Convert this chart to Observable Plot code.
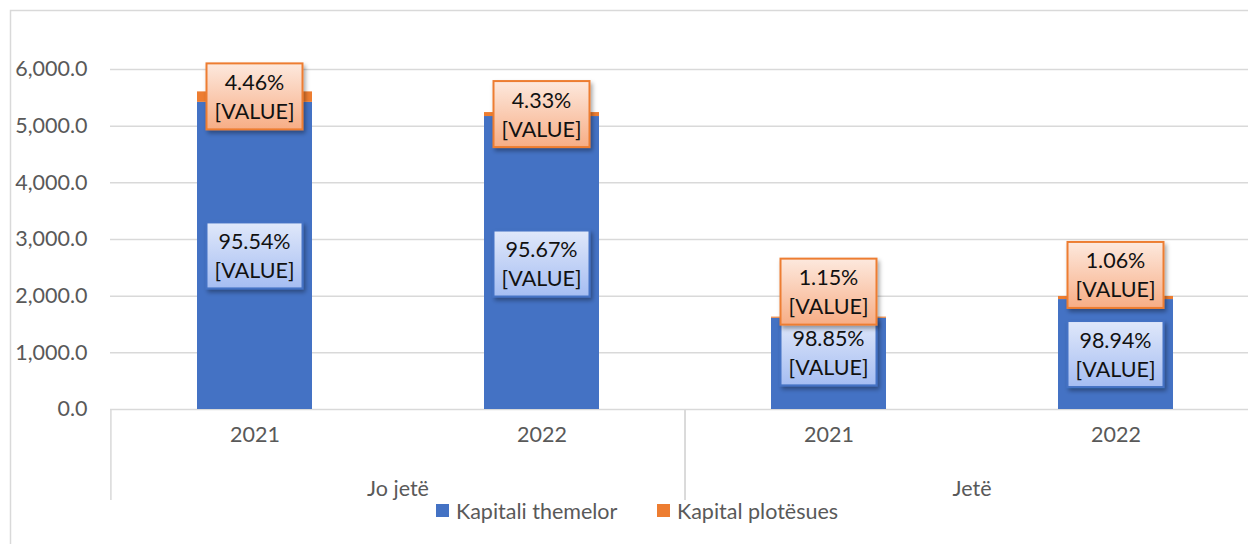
<!DOCTYPE html>
<html><head><meta charset="utf-8">
<script src="https://cdn.jsdelivr.net/npm/d3@7"></script>
<script src="https://cdn.jsdelivr.net/npm/@observablehq/plot@0.6"></script>
<style>html,body{margin:0;padding:0;background:#fff;overflow:hidden;} svg{display:block}</style>
</head><body><div id="chart"></div>
<script>
// ---- data ----
const groups = ["Jo jetë", "Jo jetë", "Jetë", "Jetë"];
const years = ["2021", "2022", "2021", "2022"];
const seriesNames = ["Kapitali themelor", "Kapital plotësues"];
const kapitaliThemelor = [5420, 5170, 1610, 1940];
const kapitalPlotesues = [185, 70, 20, 55];
const shareThemelor = ["95.54%", "95.67%", "98.85%", "98.94%"];
const sharePlotesues = ["4.46%", "4.33%", "1.15%", "1.06%"];
const valueLabel = "[VALUE]";
const yTicks = [0, 1000, 2000, 3000, 4000, 5000, 6000];

// ---- build table ----
const keys = groups.map((g, i) => g + " " + years[i]);
const rows = [];
keys.forEach((k, i) => {
  rows.push({key: k, series: seriesNames[0], value: kapitaliThemelor[i]});
  rows.push({key: k, series: seriesNames[1], value: kapitalPlotesues[i]});
});

// ---- style / layout ----
const FONT = "Lato, 'Open Sans', sans-serif";
const FS = 21.5;
const AXIS_COLOR = "#595959";
const GRID = "#d9d9d9";
const BLUE = "#4472c4", ORANGE = "#ed7d31";
const orangeLabelDy = [5, 2, -25, -21];
const blueLabelDy = [0, 1, -11, 0];
const BOX_W = 96, BOX_H = 66;

const svgNS = "http://www.w3.org/2000/svg";
function el(name, attrs, parent) {
  const e = document.createElementNS(svgNS, name);
  for (const [k, v] of Object.entries(attrs || {})) e.setAttribute(k, v);
  if (parent) parent.appendChild(e);
  return e;
}

// defs: gradients + shadow
function defsMark() {
  const g = el("g");
  const defs = el("defs", {}, g);
  const go = el("linearGradient", {id: "gradO", x1: 0, y1: 0, x2: 0, y2: 1}, defs);
  el("stop", {offset: "0%", "stop-color": "#fde9de"}, go);
  el("stop", {offset: "100%", "stop-color": "#f7ad85"}, go);
  const gb = el("linearGradient", {id: "gradB", x1: 0, y1: 0, x2: 0, y2: 1}, defs);
  el("stop", {offset: "0%", "stop-color": "#e0e8fa"}, gb);
  el("stop", {offset: "100%", "stop-color": "#a5bdf2"}, gb);
  const f = el("filter", {id: "shadow", x: "-20%", y: "-20%", width: "150%", height: "150%"}, defs);
  el("feDropShadow", {dx: 2, dy: 3, stdDeviation: 2, "flood-color": "#000", "flood-opacity": 0.35}, f);
  // outer chart border
  el("path", {d: "M10.5,544V10.5H1248", fill: "none", stroke: GRID, "stroke-width": 1.5}, g);
  return g;
}

function labelsMark(index, scales) {
  const {x, y} = scales;
  const g = el("g", {"font-family": FONT, "font-size": FS, "text-anchor": "middle"});
  const bw = x.bandwidth();
  keys.forEach((k, i) => {
    const cx = x(k) + bw / 2;
    const total = kapitaliThemelor[i] + kapitalPlotesues[i];
    const boxes = [
      {cy: y(kapitaliThemelor[i] / 2) + blueLabelDy[i], fill: "url(#gradB)", stroke: BLUE, text: shareThemelor[i]},
      {cy: y(total) + orangeLabelDy[i], fill: "url(#gradO)", stroke: ORANGE, text: sharePlotesues[i]}
    ];
    for (const b of boxes) {
      el("rect", {x: cx - BOX_W / 2, y: b.cy - BOX_H / 2, width: BOX_W, height: BOX_H,
        fill: b.fill, stroke: b.stroke, "stroke-width": 2, filter: "url(#shadow)"}, g);
      const t1 = el("text", {x: cx, y: b.cy - 14, dy: "0.35em", fill: "#111"}, g);
      t1.textContent = b.text;
      const t2 = el("text", {x: cx, y: b.cy + 15, dy: "0.35em", fill: "#111"}, g);
      t2.textContent = valueLabel;
    }
  });
  return g;
}

function groupAxisMark(index, scales) {
  const {x, y} = scales;
  const g = el("g", {"font-family": FONT, "font-size": FS, "text-anchor": "middle", fill: AXIS_COLOR});
  const step = x.step();
  const y0 = y(0);
  const uniq = [...new Set(groups)];
  uniq.forEach((gr) => {
    const ks = keys.filter((k, i) => groups[i] === gr);
    const left = x(ks[0]) - x.paddingOuter() * step;
    const right = x(ks[ks.length - 1]) + x.bandwidth() + x.paddingOuter() * step;
    el("line", {x1: left, x2: left, y1: y0, y2: y0 + 91, stroke: GRID, "stroke-width": 1.5}, g);
    el("line", {x1: right, x2: right, y1: y0, y2: y0 + 91, stroke: GRID, "stroke-width": 1.5}, g);
    const t = el("text", {x: (left + right) / 2, y: y0 + 79, dy: "0.35em"}, g);
    t.textContent = gr;
  });
  return g;
}

function legendMark(index, scales) {
  const g = el("g", {"font-family": FONT, "font-size": FS, fill: AXIS_COLOR, "text-anchor": "start"});
  const starts = [436, 657];
  seriesNames.forEach((s, i) => {
    el("rect", {x: starts[i], y: 504, width: 13, height: 13, fill: scales.color(s)}, g);
    const t = el("text", {x: starts[i] + 20, y: 511, dy: "0.35em"}, g);
    t.textContent = s;
  });
  return g;
}

const chart = Plot.plot({
  width: 1248,
  height: 544,
  marginTop: 69,
  marginBottom: 135,
  marginLeft: 110,
  marginRight: 0,
  style: {fontFamily: FONT, background: "#fff"},
  x: {type: "band", domain: keys, range: [110, 1259.5], paddingInner: 0.6, paddingOuter: 0.3, axis: null},
  y: {domain: [0, 6000], axis: null},
  color: {domain: seriesNames, range: [BLUE, ORANGE]},
  marks: [
    defsMark,
    Plot.gridY(yTicks, {stroke: GRID, strokeOpacity: 1, strokeWidth: 1.5}),
    Plot.axisY(yTicks, {tickSize: 0, tickPadding: 23, label: null, tickFormat: d3.format(",.1f"), fontSize: FS, fill: AXIS_COLOR}),
    Plot.barY(rows, {x: "key", y: "value", fill: "series"}),
    Plot.text(keys, {x: d => d, text: (d, i) => years[i], frameAnchor: "bottom", dy: 32, fontSize: FS, fill: AXIS_COLOR}),
    groupAxisMark,
    labelsMark,
    legendMark
  ]
});
document.getElementById("chart").appendChild(chart);
</script>
</body></html>
